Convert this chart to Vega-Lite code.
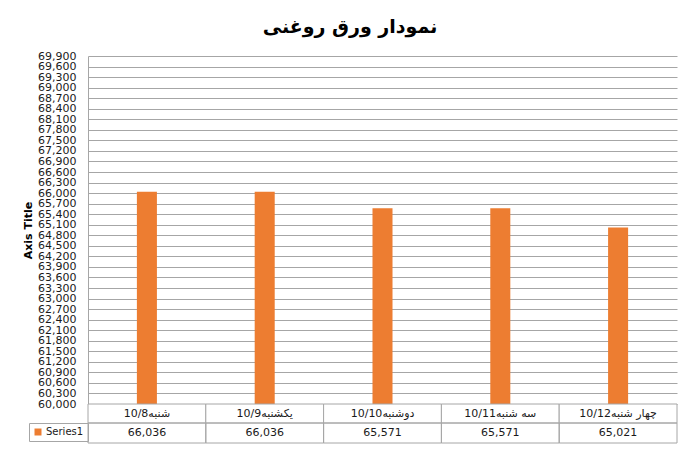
{
  "$schema": "https://vega.github.io/schema/vega-lite/v6.json",
  "padding": {"left": 22, "top": 18, "right": 14, "bottom": 8},
  "background": "white",
  "bounds": "flush",
  "title": {
    "text": "نمودار ورق روغنی",
    "font": "DejaVu Sans",
    "fontSize": 19,
    "fontWeight": "bold",
    "color": "#000000",
    "anchor": "middle",
    "frame": "bounds",
    "offset": 13
  },
  "data": {
    "values": [
      {"cat": "\u0634\u0646\u0628\u064710/8", "value": 66036, "series": "Series1"},
      {"cat": "\u06cc\u06a9\u0634\u0646\u0628\u064710/9", "value": 66036, "series": "Series1"},
      {"cat": "\u062f\u0648\u0634\u0646\u0628\u064710/10", "value": 65571, "series": "Series1"},
      {"cat": "\u0633\u0647 \u0634\u0646\u0628\u064710/11", "value": 65571, "series": "Series1"},
      {"cat": "\u0686\u0647\u0627\u0631 \u0634\u0646\u0628\u064710/12", "value": 65021, "series": "Series1"}
    ]
  },
  "spacing": 0,
  "resolve": {"legend": {"color": "independent"}},
  "config": {
    "font": "DejaVu Sans",
    "view": {"stroke": null},
    "concat": {"spacing": 0}
  },
  "vconcat": [
    {
      "width": 589,
      "height": 348,
      "mark": {"type": "bar", "color": "#ED7D31", "width": {"band": 0.17}, "clip": true},
      "encoding": {
        "x": {
          "field": "cat",
          "type": "nominal",
          "sort": null,
          "scale": {"type": "band", "paddingInner": 0, "paddingOuter": 0},
          "axis": null
        },
        "y": {
          "field": "value",
          "type": "quantitative",
          "scale": {"domain": [60000, 69900], "nice": false, "zero": false},
          "axis": {
            "title": "Axis Title",
            "titleFont": "DejaVu Sans",
            "titleFontSize": 11,
            "titleFontWeight": "bold",
            "titleColor": "#000000",
            "titlePadding": 4,
            "values": [60000, 60300, 60600, 60900, 61200, 61500, 61800, 62100, 62400, 62700, 63000, 63300, 63600, 63900, 64200, 64500, 64800, 65100, 65400, 65700, 66000, 66300, 66600, 66900, 67200, 67500, 67800, 68100, 68400, 68700, 69000, 69300, 69600, 69900],
            "format": ",.0f",
            "labelFont": "DejaVu Sans",
            "labelFontSize": 11,
            "labelColor": "#1a1a1a",
            "labelOverlap": false,
            "labelPadding": 12,
            "labelBound": false,
            "labelFlush": false,
            "ticks": false,
            "domain": true,
            "domainColor": "#A6A6A6",
            "grid": true,
            "gridColor": "#A6A6A6",
            "gridWidth": 1
          }
        },
        "y2": {"datum": 60000}
      }
    },
    {
      "width": 589,
      "height": 19,
      "layer": [
        {
          "mark": {"type": "rect", "fill": "white", "stroke": "#A6A6A6", "strokeWidth": 1},
          "encoding": {
            "x": {
              "field": "cat",
              "type": "nominal",
              "sort": null,
              "scale": {"type": "band", "paddingInner": 0, "paddingOuter": 0},
              "axis": null
            }
          }
        },
        {
          "mark": {"type": "text", "font": "DejaVu Sans", "fontSize": 11, "color": "#1a1a1a", "baseline": "middle", "align": "center"},
          "encoding": {
            "x": {
              "field": "cat",
              "type": "nominal",
              "sort": null,
              "scale": {"type": "band", "paddingInner": 0, "paddingOuter": 0},
              "axis": null
            },
            "text": {"field": "cat"}
          }
        }
      ]
    },
    {
      "width": 589,
      "height": 20,
      "layer": [
        {
          "mark": {"type": "rect", "stroke": "#A6A6A6", "strokeWidth": 1, "fillOpacity": 0},
          "encoding": {
            "x": {
              "field": "cat",
              "type": "nominal",
              "sort": null,
              "scale": {"type": "band", "paddingInner": 0, "paddingOuter": 0},
              "axis": null
            },
            "color": {
              "field": "series",
              "type": "nominal",
              "scale": {"range": ["#ED7D31"]},
              "legend": {
                "title": null,
                "orient": "left",
                "offset": 0,
                "padding": 4,
                "strokeColor": "#A6A6A6",
                "cornerRadius": 0,
                "symbolType": "square",
                "symbolSize": 49,
                "symbolOpacity": 1,
                "symbolStrokeWidth": 0,
                "labelFont": "DejaVu Sans",
                "labelFontSize": 10,
                "labelColor": "#1a1a1a",
                "labelOffset": 3
              }
            }
          }
        },
        {
          "mark": {"type": "text", "font": "DejaVu Sans", "fontSize": 11, "color": "#1a1a1a", "baseline": "middle", "align": "center"},
          "encoding": {
            "x": {
              "field": "cat",
              "type": "nominal",
              "sort": null,
              "scale": {"type": "band", "paddingInner": 0, "paddingOuter": 0},
              "axis": null
            },
            "text": {"field": "value", "type": "quantitative", "format": ",.0f"}
          }
        }
      ]
    }
  ]
}
